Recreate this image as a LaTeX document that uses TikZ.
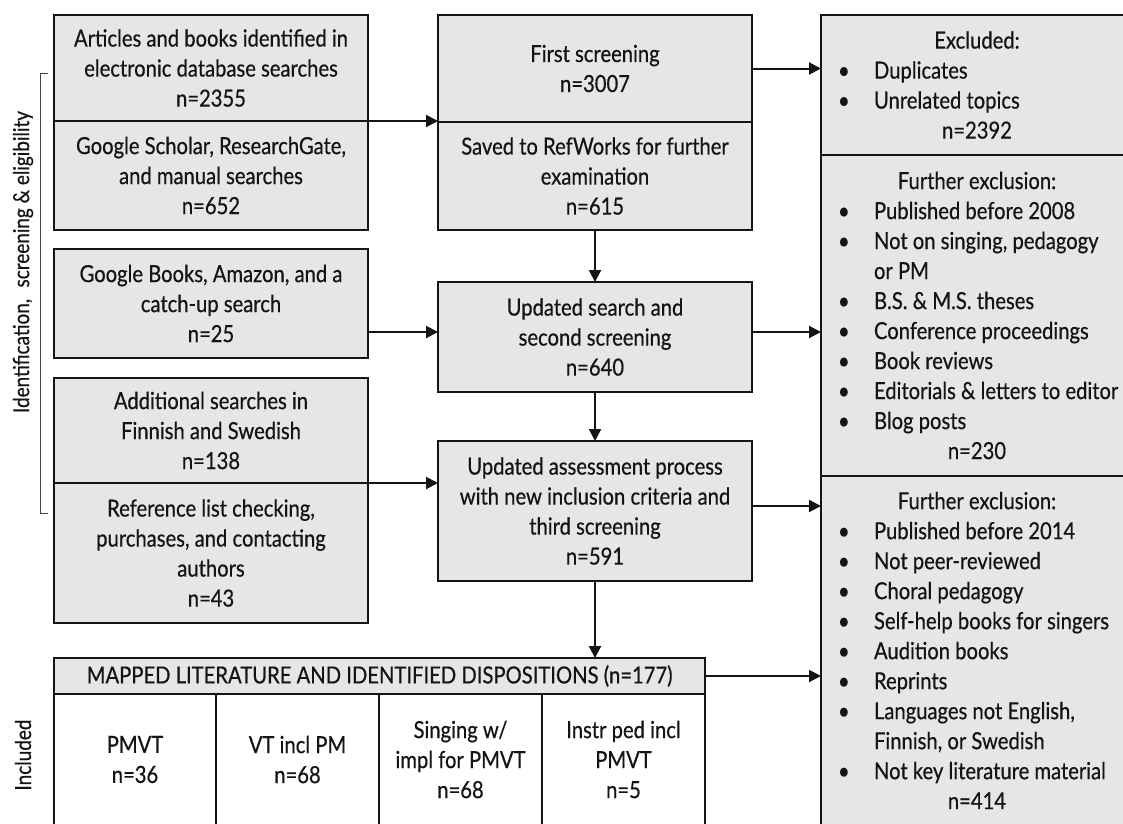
\documentclass[tikz,border=0pt]{standalone}
\usepackage{fontspec}
\setmainfont{Lato}[FakeStretch=0.86, FakeBold=0.5]
\usetikzlibrary{arrows.meta}
\definecolor{boxfill}{RGB}{230,230,230}
\definecolor{ink}{RGB}{20,20,20}
\newcommand{\cl}[1]{\makebox[278pt][c]{#1}}
\newcommand{\bl}[1]{\makebox[278pt][l]{\makebox[36pt][l]{\textbullet}#1}}
\newcommand{\cn}[1]{\makebox[278pt][l]{\hspace{36pt}#1}}
\begin{document}
\begin{tikzpicture}[x=1pt,y=-1pt,
  box/.style={draw=ink, line width=2.4pt, fill=boxfill, inner sep=0pt, outer sep=0pt,
              anchor=north west, align=center, text=ink, font=\fontsize{23.5}{30}\selectfont},
  rbox/.style={box, align=left, inner xsep=17pt, minimum width=312pt},
  cell/.style={box, fill=white},
  arr/.style={draw=ink, line width=2pt, -{Triangle[length=12pt,width=12pt]}},
  lbl/.style={rotate=90, text=ink, font=\fontsize{22}{30}\selectfont}
]
\useasboundingbox (0,0) rectangle (1123,823);
\clip (0,0) rectangle (1123,823);

% left column
\node[box, minimum width=314pt, minimum height=106pt] (A1) at (54,15)
  {Articles and books identified in\\electronic database searches\\n=2355};
\node[box, minimum width=314pt, minimum height=109pt] (A2) at (54,121)
  {Google Scholar, ResearchGate,\\and manual searches\\n=652};
\node[box, minimum width=314pt, minimum height=109pt] (B) at (54,249)
  {Google Books, Amazon, and a\\catch-up search\\n=25};
\node[box, minimum width=314pt, minimum height=105pt] (C1) at (54,378)
  {Additional searches in\\Finnish and Swedish\\n=138};
\node[box, minimum width=314pt, minimum height=140pt] (C2) at (54,483)
  {Reference list checking,\\purchases, and contacting\\authors\\n=43};

% middle column
\node[box, minimum width=314pt, minimum height=107pt] (M1) at (438,15)
  {First screening\\n=3007};
\node[box, minimum width=314pt, minimum height=108pt] (M2) at (438,122)
  {Saved to RefWorks for further\\examination\\n=615};
\node[box, minimum width=314pt, minimum height=110pt] (M3) at (438,282)
  {Updated search and\\second screening\\n=640};
\node[box, minimum width=314pt, minimum height=140pt] (M4) at (438,441)
  {Updated assessment process\\with new inclusion criteria and\\third screening\\n=591};

% right column
\node[rbox, minimum height=140pt] (R1) at (821,15)
  {\cl{Excluded:}\\\bl{Duplicates}\\\bl{Unrelated topics}\\\cl{n=2392}};
\node[rbox, minimum height=321pt] (R2) at (821,155)
  {\cl{Further exclusion:}\\\bl{Published before 2008}\\\bl{Not on singing, pedagogy}\\\cn{or PM}\\
   \bl{B.S. \& M.S. theses}\\\bl{Conference proceedings}\\\bl{Book reviews}\\
   \bl{Editorials \& letters to editor}\\\bl{Blog posts}\\\cl{n=230}};
\node[rbox, minimum height=349pt] (R3) at (821,476)
  {\cl{Further exclusion:}\\\bl{Published before 2014}\\\bl{Not peer-reviewed}\\\bl{Choral pedagogy}\\
   \bl{Self-help books for singers}\\\bl{Audition books}\\\bl{Reprints}\\
   \bl{Languages not English,}\\\cn{Finnish, or Swedish}\\\bl{Not key literature material}\\\cl{n=414}};

% included
\node[cell, minimum width=162pt, minimum height=131pt] (P1) at (54,694) {PMVT\\n=36};
\node[cell, minimum width=163pt, minimum height=131pt] (P2) at (216,694) {VT incl PM\\n=68};
\node[cell, minimum width=163pt, minimum height=131pt] (P3) at (379,694) {Singing w/\\impl for PMVT\\n=68};
\node[cell, minimum width=163pt, minimum height=131pt] (P4) at (542,694) {Instr ped incl\\PMVT\\n=5};
\node[box, minimum width=651pt, minimum height=36pt] (MAP) at (54,658)
  {MAPPED LITERATURE AND IDENTIFIED DISPOSITIONS (n=177)};

% side labels
\coordinate (bt) at (48,73);
\coordinate (bb) at (48,513);
\draw[ink!80, line width=0.9pt] (bt) -- ++(-8,0) |- (bb);
\node[lbl] (idlab) at (23,262) {Identification,\hspace{0.3em} screening \& eligibility};
\node[lbl] (inclab) at (23,755) {Included};

% connectors
\draw[arr] (A1.south east) -- (A1.south east -| M1.west);
\draw[arr] (M1.east) -- (M1.east -| R1.west);
\draw[arr] (M2.south) -- (M3.north);
\draw[arr] ([yshift=5pt]M3.west -| B.east) -- ([yshift=5pt]M3.west);
\draw[arr] ([yshift=5pt]M3.east) -- ([yshift=5pt]M3.east -| R2.west);
\draw[arr] (M3.south) -- (M4.north);
\draw[arr] (C1.south east) -- (C1.south east -| M4.west);
\draw[arr] ([yshift=5pt]M4.east) -- ([yshift=5pt]M4.east -| R3.west);
\draw[arr] (M4.south) -- (M4.south |- MAP.north);
\draw[arr] (MAP.east) -- (MAP.east -| R3.west);
\end{tikzpicture}
\end{document}
